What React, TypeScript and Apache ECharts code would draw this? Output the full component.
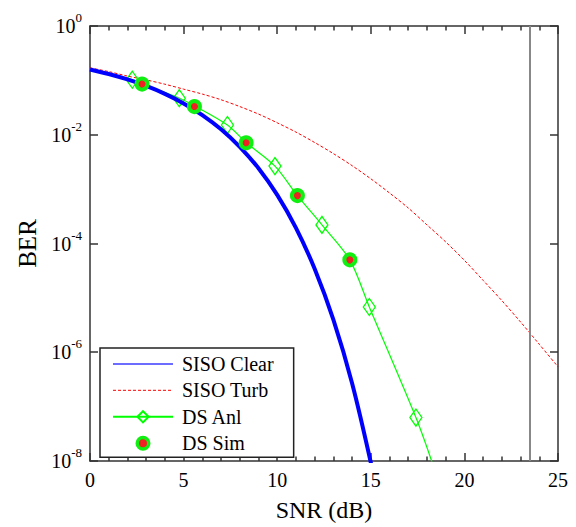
import React, { useEffect, useRef } from "react";
import * as echarts from "echarts";

// ---- data ----
const snrMin = 0;
const snrMax = 25;
const snrTickStep = 5;
const berTickValues = [1, 1e-2, 1e-4, 1e-6, 1e-8];
const cutoffSnr = 23.5;

const sisoClearSnr = [0, 1, 2, 3, 4, 5, 6, 7, 8, 9, 10, 11, 12, 13, 14, 15, 15.5];
const sisoClearBer = [0.1587, 0.131, 0.104, 0.0789, 0.0565, 0.0377, 0.023, 0.0126, 0.006, 0.00242, 7.83e-4, 1.94e-4, 3.43e-5, 3.97e-6, 2.7e-7, 9.4e-9, 1.3e-9];

const sisoTurbSnr = [0, 1, 2, 3, 4, 5, 6, 7, 8, 9, 10, 11, 12, 13, 14, 15, 16, 17, 18, 19, 20, 21, 22, 23, 24, 25];
const sisoTurbBer = [0.17, 0.145, 0.12, 0.102, 0.085, 0.069, 0.056, 0.044, 0.033, 0.024, 0.0166, 0.0112, 0.0072, 0.0045, 0.0027, 0.00155, 8.5e-4, 4.5e-4, 2.2e-4, 1.07e-4, 4.9e-5, 2.1e-5, 8.9e-6, 3.6e-6, 1.4e-6, 5.4e-7];

const dsAnlSnr = [0, 2.26, 2.78, 4.77, 5.58, 7.34, 8.34, 9.88, 11.08, 12.39, 13.88, 14.92, 17.41, 18.25, 18.6];
const dsAnlBer = [0.16, 0.103, 0.086, 0.047, 0.034, 0.0151, 0.0072, 0.00265, 7.6e-4, 2.2e-4, 5.0e-5, 6.8e-6, 6.3e-8, 1.0e-8, 4e-9];
const dsAnlMarkerSnr = [2.26, 4.77, 7.34, 9.88, 12.39, 14.92, 17.41];

const dsSimSnr = [2.78, 5.58, 8.34, 11.08, 13.88];
const dsSimBer = [0.0855, 0.033, 0.0071, 7.6e-4, 5.0e-5];

const FONT = "'Liberation Serif', 'Times New Roman', serif";
const AXIS_COLOR = "#333";
// circle icon padded inside an 18x18 box so the legend dot stays small
const SMALL_DOT_ICON = "path://M0,0M18,18M9,1.6A7.4,7.4,0,1,1,9,16.4A7.4,7.4,0,1,1,9,1.6Z";

export default function App() {
  const ref = useRef<HTMLDivElement>(null);

  useEffect(() => {
    document.body.style.margin = "0";
    if (!ref.current) return;
    const chart = echarts.init(ref.current, undefined, { renderer: "svg" });

    const pair = (xs: number[], ys: number[]) => xs.map((x, i) => [x, ys[i]]);

    const xAxisBase = {
      type: "value" as const,
      min: snrMin,
      max: snrMax,
      interval: snrTickStep,
      axisLine: { show: true, onZero: false, lineStyle: { color: AXIS_COLOR, width: 1.5 } },
      axisTick: { show: true, inside: true, length: 8, lineStyle: { color: AXIS_COLOR, width: 1.5 } },
      minorTick: { show: true, splitNumber: 5, length: 4.5, lineStyle: { color: AXIS_COLOR, width: 1.5 } },
      splitLine: { show: false },
      minorSplitLine: { show: false },
    };

    const yAxisBase = {
      type: "log" as const,
      logBase: 10,
      min: 1e-8,
      max: 1,
      axisLine: { show: true, onZero: false, lineStyle: { color: AXIS_COLOR, width: 1.5 } },
      axisTick: {
        show: true,
        inside: true,
        length: 8,
        customValues: berTickValues,
        lineStyle: { color: AXIS_COLOR, width: 1.5 },
      },
      minorTick: { show: false },
      splitLine: { show: false },
    };

    chart.setOption({
      animation: false,
      backgroundColor: "#fff",
      grid: { left: 90, top: 26, right: 18, bottom: 59, containLabel: false },
      xAxis: [
        {
          ...xAxisBase,
          position: "bottom",
          name: "SNR (dB)",
          nameLocation: "middle",
          nameGap: 37,
          nameTextStyle: { fontFamily: FONT, fontSize: 24, color: "#000" },
          axisLabel: { show: true, margin: 9, fontFamily: FONT, fontSize: 20, color: "#000" },
        },
        {
          ...xAxisBase,
          position: "top",
          axisLabel: { show: false },
        },
      ],
      yAxis: [
        {
          ...yAxisBase,
          position: "left",
          name: "BER",
          nameLocation: "middle",
          nameRotate: 90,
          nameGap: 50,
          nameTextStyle: { fontFamily: FONT, fontSize: 25, color: "#000" },
          axisLabel: {
            show: true,
            margin: 8,
            customValues: berTickValues,
            formatter: (v: number) => {
              const e = Math.round(Math.log10(v));
              return `{b|10}{s|${e}}`;
            },
            rich: {
              b: { fontFamily: FONT, fontSize: 20, color: "#000", lineHeight: 30 },
              s: { fontFamily: FONT, fontSize: 13, color: "#000", lineHeight: 13, verticalAlign: "top" },
            },
          },
        },
        {
          ...yAxisBase,
          position: "right",
          axisLabel: { show: false },
        },
      ],
      legend: {
        orient: "vertical",
        left: 100,
        top: 348,
        padding: [6, 20, 4, 12],
        itemWidth: 60,
        itemHeight: 14,
        itemGap: 6.4,
        backgroundColor: "#fff",
        borderColor: "#222",
        borderWidth: 1.5,
        borderRadius: 0,
        textStyle: { fontFamily: FONT, fontSize: 20, color: "#000", lineHeight: 20, padding: [0, 0, 0, 4] },
        data: [
          { name: "SISO Clear", lineStyle: { width: 1.5, color: "#3b3bff" }, itemStyle: { opacity: 0 } },
          { name: "SISO Turb", lineStyle: { width: 1.2, color: "#ff3030", type: [3, 2] }, itemStyle: { opacity: 0 } },
          { name: "DS Anl" },
          { name: "DS Sim", icon: SMALL_DOT_ICON, itemStyle: { borderWidth: 3.5, borderColor: "#11ee11", color: "#ee2222" } },
        ],
      },
      series: [
        {
          name: "SISO Clear",
          type: "line",
          symbol: "none",
          smooth: 0.3,
          z: 3,
          lineStyle: { color: "#0000ff", width: 4 },
          itemStyle: { color: "#0000ff" },
          data: pair(sisoClearSnr, sisoClearBer),
        },
        {
          name: "SISO Turb",
          type: "line",
          symbol: "none",
          smooth: 0.3,
          z: 2,
          lineStyle: { color: "#ff0000", width: 1, type: [3, 2] },
          itemStyle: { color: "#ff0000" },
          data: pair(sisoTurbSnr, sisoTurbBer),
          markLine: {
            silent: true,
            symbol: "none",
            label: { show: false },
            lineStyle: { color: "#888", width: 2, type: "solid" },
            data: [{ xAxis: cutoffSnr }],
          },
        },
        {
          name: "DS Anl",
          type: "line",
          symbol: "diamond",
          symbolSize: [12, 17],
          showSymbol: true,
          showAllSymbol: true,
          smooth: 0.3,
          z: 2,
          lineStyle: { color: "#00ff00", width: 1.2 },
          itemStyle: { color: "rgba(255,255,255,0)", borderColor: "#00ff00", borderWidth: 1.3 },
          data: dsAnlSnr.map((x, i) =>
            dsAnlMarkerSnr.includes(x)
              ? { value: [x, dsAnlBer[i]] }
              : { value: [x, dsAnlBer[i]], symbol: "none" }
          ),
        },
        {
          name: "DS Sim",
          type: "scatter",
          symbol: "circle",
          symbolSize: 11,
          z: 4,
          itemStyle: { color: "#ee2222", borderColor: "#11ee11", borderWidth: 4, opacity: 1 },
          data: pair(dsSimSnr, dsSimBer),
        },
      ],
    });

    return () => chart.dispose();
  }, []);

  return <div ref={ref} style={{ width: 576, height: 527 }} />;
}
